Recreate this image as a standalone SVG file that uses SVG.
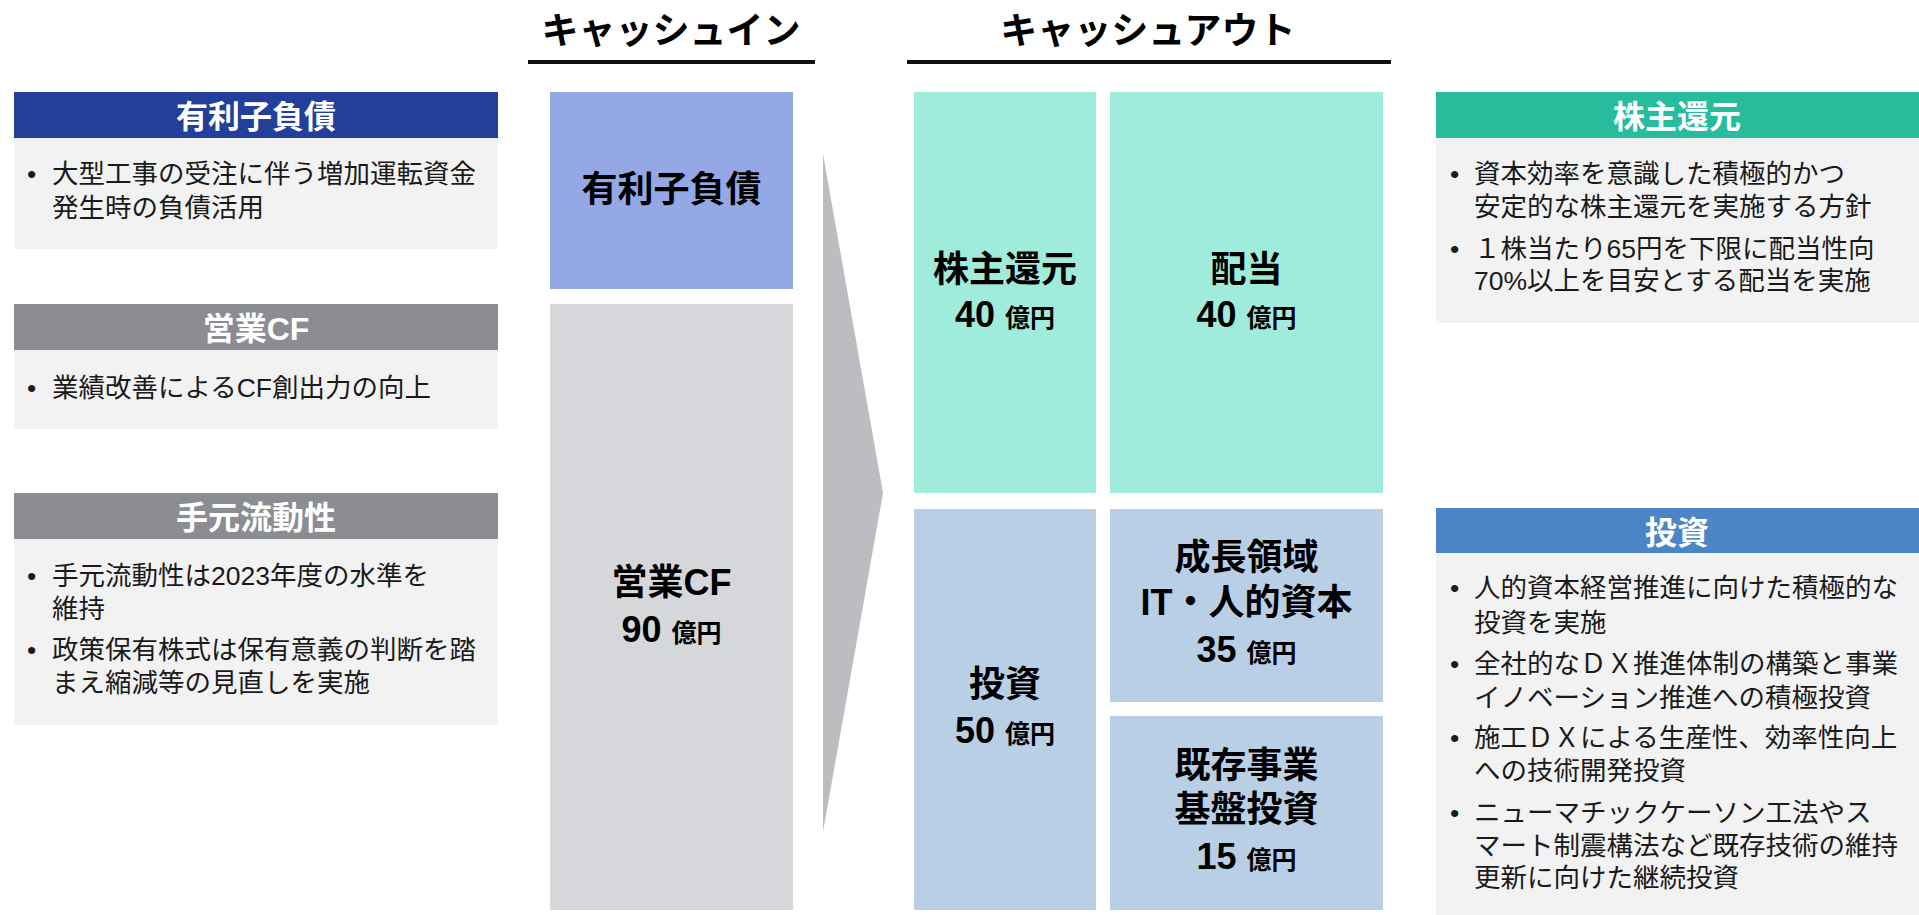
<svg xmlns="http://www.w3.org/2000/svg" width="1919" height="915" viewBox="0 0 1919 915">
<style>
.hd{font-family:"Liberation Sans","Noto Sans CJK JP",sans-serif;font-weight:bold;font-size:32px;fill:#fff;text-anchor:middle;}
.bd{font-family:"Liberation Sans","Noto Sans CJK JP",sans-serif;font-size:26.5px;fill:#1a1a1a;}
.big{font-family:"Liberation Sans","Noto Sans CJK JP",sans-serif;font-weight:bold;font-size:36px;fill:#000;text-anchor:middle;}
.num{font-family:"Liberation Sans","Noto Sans CJK JP",sans-serif;font-weight:bold;font-size:36px;fill:#000;text-anchor:middle;}
.unit{font-size:25px;}
.ttl{font-family:"Liberation Sans","Noto Sans CJK JP",sans-serif;font-weight:bold;font-size:37px;fill:#000;text-anchor:middle;}
.body{fill:#F2F2F2;}
</style>
<rect width="1919" height="915" fill="#fff"/>

<g id="title-in">
<text class="ttl" x="671" y="44">キャッシュイン</text>
<rect x="528" y="60" width="287" height="4" fill="#111"/>
</g>
<g id="title-out">
<text class="ttl" x="1148" y="44">キャッシュアウト</text>
<rect x="907" y="60" width="484" height="4" fill="#111"/>
</g>

<g id="left-debt">
<rect x="14" y="92" width="484" height="46" fill="#22409A"/>
<rect class="body" x="14" y="138" width="484" height="111"/>
<text class="hd" x="256" y="128">有利子負債</text>
<text class="bd" x="27" y="183">•</text>
<text class="bd" x="52" y="183">大型工事の受注に伴う増加運転資金</text>
<text class="bd" x="52" y="217">発生時の負債活用</text>
</g>

<g id="left-cf">
<rect x="14" y="304" width="484" height="46" fill="#8C8D92"/>
<rect class="body" x="14" y="350" width="484" height="79"/>
<text class="hd" x="256" y="340">営業CF</text>
<text class="bd" x="27" y="397">•</text>
<text class="bd" x="52" y="397">業績改善によるCF創出力の向上</text>
</g>

<g id="left-liquidity">
<rect x="14" y="493" width="484" height="46" fill="#8C8D92"/>
<rect class="body" x="14" y="539" width="484" height="186"/>
<text class="hd" x="256" y="529">手元流動性</text>
<text class="bd" x="27" y="585">•</text>
<text class="bd" x="52" y="585">手元流動性は2023年度の水準を</text>
<text class="bd" x="52" y="618">維持</text>
<text class="bd" x="27" y="659">•</text>
<text class="bd" x="52" y="659">政策保有株式は保有意義の判断を踏</text>
<text class="bd" x="52" y="692">まえ縮減等の見直しを実施</text>
</g>

<g id="in-debt">
<rect x="550" y="92" width="243" height="197" fill="#94A8E6"/>
<text class="big" x="671.5" y="202">有利子負債</text>
</g>

<g id="in-cf">
<rect x="550" y="304" width="243" height="606" fill="#D6D7DA"/>
<text class="big" x="671.5" y="595">営業CF</text>
<text class="num" x="671.5" y="642">90 <tspan class="unit">億円</tspan></text>
</g>

<g id="connectors">
<polygon points="823,154 883,493 823,832" fill="#BCBDC1"/>
</g>

<g id="out-return">
<rect x="914" y="92" width="182" height="401" fill="#A0ECDC"/>
<text class="big" x="1005" y="282">株主還元</text>
<text class="num" x="1005" y="327">40 <tspan class="unit">億円</tspan></text>
</g>

<g id="out-dividend">
<rect x="1110" y="92" width="273" height="401" fill="#A0ECDC"/>
<text class="big" x="1246.5" y="282">配当</text>
<text class="num" x="1246.5" y="327">40 <tspan class="unit">億円</tspan></text>
</g>

<g id="out-invest">
<rect x="914" y="509" width="182" height="401" fill="#B8CFE6"/>
<text class="big" x="1005" y="697">投資</text>
<text class="num" x="1005" y="743">50 <tspan class="unit">億円</tspan></text>
</g>

<g id="out-growth">
<rect x="1110" y="509" width="273" height="193" fill="#B8CFE6"/>
<text class="big" x="1246.5" y="570">成長領域</text>
<text class="big" x="1246.5" y="615">IT・人的資本</text>
<text class="num" x="1246.5" y="662">35 <tspan class="unit">億円</tspan></text>
</g>

<g id="out-existing">
<rect x="1110" y="716" width="273" height="194" fill="#B8CFE6"/>
<text class="big" x="1246.5" y="778">既存事業</text>
<text class="big" x="1246.5" y="822">基盤投資</text>
<text class="num" x="1246.5" y="869">15 <tspan class="unit">億円</tspan></text>
</g>

<g id="right-return">
<rect x="1436" y="92" width="483" height="46" fill="#26BC9C"/>
<rect class="body" x="1436" y="138" width="483" height="185"/>
<text class="hd" x="1677" y="128">株主還元</text>
<text class="bd" x="1450" y="183">•</text>
<text class="bd" x="1474" y="183">資本効率を意識した積極的かつ</text>
<text class="bd" x="1474" y="216">安定的な株主還元を実施する方針</text>
<text class="bd" x="1450" y="258">•</text>
<text class="bd" x="1474" y="258">１株当たり65円を下限に配当性向</text>
<text class="bd" x="1474" y="290">70%以上を目安とする配当を実施</text>
</g>

<g id="right-invest">
<rect x="1436" y="508" width="483" height="45" fill="#4A86C5"/>
<rect class="body" x="1436" y="553" width="483" height="362"/>
<text class="hd" x="1677" y="544">投資</text>
<text class="bd" x="1450" y="597">•</text>
<text class="bd" x="1474" y="597">人的資本経営推進に向けた積極的な</text>
<text class="bd" x="1474" y="632">投資を実施</text>
<text class="bd" x="1450" y="673">•</text>
<text class="bd" x="1474" y="673">全社的なＤＸ推進体制の構築と事業</text>
<text class="bd" x="1474" y="707">イノベーション推進への積極投資</text>
<text class="bd" x="1450" y="747">•</text>
<text class="bd" x="1474" y="747">施工ＤＸによる生産性、効率性向上</text>
<text class="bd" x="1474" y="780">への技術開発投資</text>
<text class="bd" x="1450" y="822">•</text>
<text class="bd" x="1474" y="822">ニューマチックケーソン工法やス</text>
<text class="bd" x="1474" y="855">マート制震構法など既存技術の維持</text>
<text class="bd" x="1474" y="887">更新に向けた継続投資</text>
</g>
</svg>
